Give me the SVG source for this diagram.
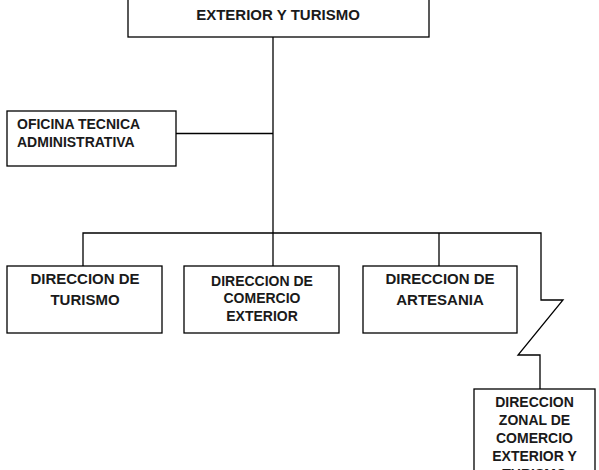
<svg xmlns="http://www.w3.org/2000/svg" width="599" height="470" viewBox="0 0 599 470">
<style>
.box{fill:#fff;stroke:#000;stroke-width:1.3}
.ln{fill:none;stroke:#000;stroke-width:1.3}
text{font-family:"Liberation Sans",Arial,sans-serif;font-weight:bold;fill:#1a1a1a}
.c{text-anchor:middle}
</style>
<rect width="599" height="470" fill="#fff"/>
<g id="connectors">
<path class="ln" d="M273,37 V233"/>
<path class="ln" d="M176,133.5 H273"/>
<path class="ln" d="M83,266 V233 H541 V300 H563 L518,355 H540 V389"/>
<path class="ln" d="M273,233 V266"/>
<path class="ln" d="M439,233 V266"/>
</g>
<g id="n-top">
<rect class="box" x="128" y="-20" width="301" height="57"/>
<text class="c" x="278" y="20" font-size="15">EXTERIOR Y TURISMO</text>
</g>
<g id="n-oficina">
<rect class="box" x="7" y="111" width="169" height="55"/>
<text x="17" y="129" font-size="14">OFICINA TECNICA</text>
<text x="17" y="147" font-size="14">ADMINISTRATIVA</text>
</g>
<g id="n-turismo">
<rect class="box" x="7" y="266" width="155" height="67"/>
<text class="c" x="85" y="284" font-size="15">DIRECCION DE</text>
<text class="c" x="85" y="305" font-size="15">TURISMO</text>
</g>
<g id="n-comercio">
<rect class="box" x="184" y="266" width="155" height="67"/>
<text class="c" x="262" y="286" font-size="14">DIRECCION DE</text>
<text class="c" x="262" y="303" font-size="14">COMERCIO</text>
<text class="c" x="262" y="321" font-size="14">EXTERIOR</text>
</g>
<g id="n-artesania">
<rect class="box" x="363" y="266" width="154" height="67"/>
<text class="c" x="440" y="284" font-size="15">DIRECCION DE</text>
<text class="c" x="440" y="305" font-size="15">ARTESANIA</text>
</g>
<g id="n-zonal">
<rect class="box" x="474" y="389" width="121" height="100"/>
<text class="c" x="534.5" y="407" font-size="14">DIRECCION</text>
<text class="c" x="534.5" y="425" font-size="14">ZONAL DE</text>
<text class="c" x="534.5" y="443" font-size="14">COMERCIO</text>
<text class="c" x="534.5" y="461" font-size="14">EXTERIOR Y</text>
<text class="c" x="534.5" y="479" font-size="14">TURISMO</text>
</g>
</svg>
